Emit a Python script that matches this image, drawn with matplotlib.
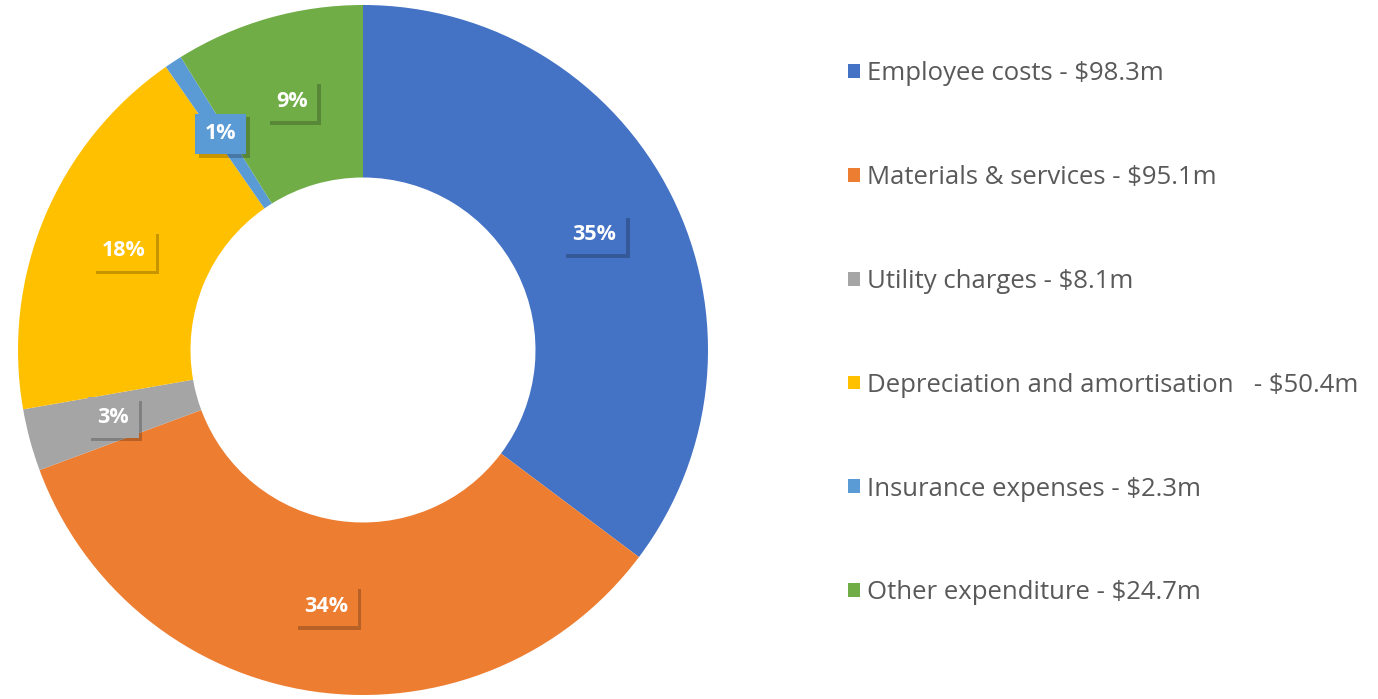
import matplotlib.pyplot as plt
import matplotlib.patheffects as pe

plt.rcParams['font.family'] = ['Open Sans', 'DejaVu Sans']

categories = ['Employee costs - $98.3m', 'Materials & services - $95.1m',
              'Utility charges - $8.1m', 'Depreciation and amortisation   - $50.4m',
              'Insurance expenses - $2.3m', 'Other expenditure - $24.7m']
values = [98.3, 95.1, 8.1, 50.4, 2.3, 24.7]
colors = ['#4472C4', '#ED7D31', '#A5A5A5', '#FFC000', '#5B9BD5', '#70AD47']

fig = plt.figure(figsize=(13.78, 6.99), dpi=100)
ax = fig.add_axes([18 / 1378, 4 / 699, 690 / 1378, 690 / 699])

wedges, texts, autotexts = ax.pie(
    values, colors=colors, startangle=90, counterclock=False,
    radius=1, pctdistance=0.75, autopct='%1.0f%%',
    wedgeprops=dict(width=0.5, linewidth=0),
    textprops=dict(color='white', fontsize=15.5, fontweight='bold'))
ax.set_xlim(-1, 1)
ax.set_ylim(-1, 1)
ax.set_aspect('equal')

# label boxes in the slice colour with a soft drop shadow
for t, c in zip(autotexts, colors):
    t.set_bbox(dict(facecolor=c, edgecolor='none', boxstyle='square,pad=0.45'))
    t.get_bbox_patch().set_path_effects([
        pe.SimplePatchShadow(offset=(2.5, -2.5), shadow_rgbFace='black', alpha=0.22),
        pe.Normal()])

leg = fig.legend(wedges, categories, loc='upper left',
                 bbox_to_anchor=(848 / 1378, 1 - 61 / 699),
                 frameon=False, fontsize=18.5, labelcolor='#595959',
                 handlelength=0.45, handleheight=0.45, handletextpad=0.3,
                 labelspacing=3.07, borderpad=0, borderaxespad=0)

fig.savefig('out.png', dpi=100)
